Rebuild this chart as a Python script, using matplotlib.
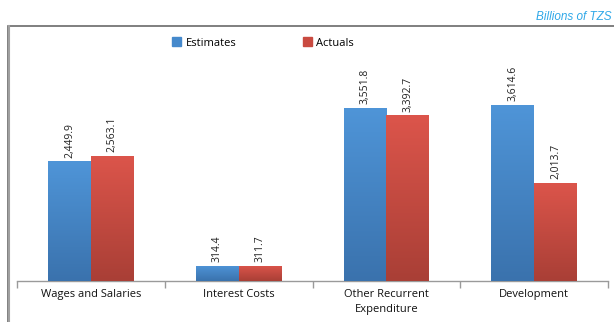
import numpy as np
import matplotlib
matplotlib.use("Agg")
import matplotlib.pyplot as plt
from matplotlib.patches import Rectangle
from matplotlib.colors import LinearSegmentedColormap

categories = ["Wages and Salaries", "Interest Costs", "Other Recurrent\nExpenditure", "Development"]
estimates = [2449.9, 314.4, 3551.8, 3614.6]
actuals = [2563.1, 311.7, 3392.7, 2013.7]
series_names = ["Estimates", "Actuals"]

plt.rcParams["font.family"] = ["Open Sans", "DejaVu Sans"]

fig = plt.figure(figsize=(6.14, 3.22), dpi=100)
fig.patch.set_facecolor("white")

# outer chart frame
frame = Rectangle((8 / 614, -0.1), 1.2, (322 - 26) / 322 + 0.1, transform=fig.transFigure,
                  fill=False, edgecolor="#6a6a6a", linewidth=1.2, zorder=0)
fig.add_artist(frame)
fig.add_artist(plt.Line2D([8.5 / 614, 8.5 / 614], [0, (322 - 26) / 322], transform=fig.transFigure,
                          color="#a0a0a0", linewidth=1.5))

fig.text(612 / 614, (322 - 17) / 322, "Billions of TZS", ha="right", va="center",
         fontsize=8.5, style="italic", color="#2fa8e8", family=["Liberation Sans", "DejaVu Sans"])

ax = fig.add_axes([17 / 614, 41 / 322, 591 / 614, (281 - 37) / 322])

blue_cmap = LinearSegmentedColormap.from_list("b", ["#3a72ad", "#4f95d8"])
red_cmap = LinearSegmentedColormap.from_list("r", ["#a93f36", "#dc554b"])

width = 0.29
x = np.arange(len(categories))
grad = np.linspace(0, 1, 256).reshape(-1, 1)

for vals, off, cmap, face in [(estimates, -width / 2, blue_cmap, "#4589cc"),
                              (actuals, width / 2, red_cmap, "#c94a40")]:
    bars = ax.bar(x + off, vals, width=width, color=face, edgecolor="none", zorder=2)
    for b, v in zip(bars, vals):
        x0 = b.get_x()
        im = ax.imshow(grad, cmap=cmap, aspect="auto", origin="lower",
                       extent=[x0, x0 + b.get_width(), 0, v], zorder=3)
        im.set_clip_path(b)
        ax.text(x0 + b.get_width() / 2, v + 80, f"{v:,.1f}", rotation=90,
                ha="center", va="bottom", fontsize=7.5, color="#222222", zorder=4)

ax.set_xlim(-0.5, len(categories) - 0.5)
ax.set_ylim(0, 5000)

for s in ["top", "right", "left"]:
    ax.spines[s].set_visible(False)
ax.spines["bottom"].set_color("#9a9a9a")
ax.spines["bottom"].set_linewidth(1.0)
ax.set_yticks([])

ax.set_xticks(np.arange(len(categories) + 1) - 0.5, minor=False)
ax.set_xticklabels([])
ax.tick_params(axis="x", which="major", length=5, color="#9a9a9a", width=1.0)
ax.set_xticks(x, minor=True)
ax.set_xticklabels(categories, minor=True, fontsize=8, color="#111111", linespacing=1.4)
ax.tick_params(axis="x", which="minor", length=0, pad=6)

# legend
handles = [Rectangle((0, 0), 1, 1, color="#4589cc"), Rectangle((0, 0), 1, 1, color="#c94a40")]
fig.legend(handles, series_names, loc="center", bbox_to_anchor=(263 / 614, (322 - 43) / 322),
           ncol=2, frameon=False, fontsize=8, handlelength=0.8, handleheight=0.8,
           handletextpad=0.4, columnspacing=6.0)

fig.savefig("out.png", dpi=100, facecolor="white")
